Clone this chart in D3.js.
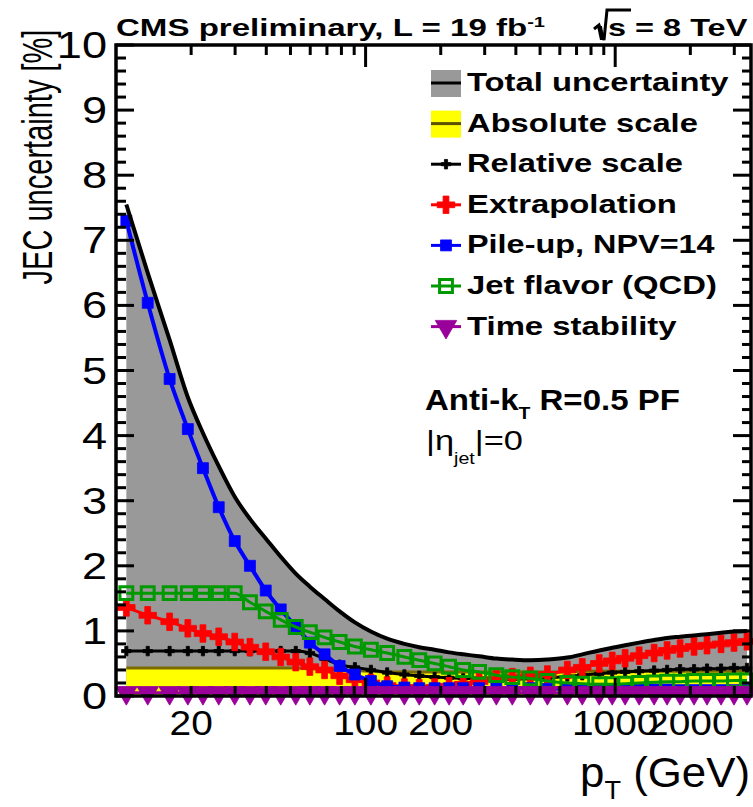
<!DOCTYPE html>
<html>
<head>
<meta charset="utf-8">
<script src="https://cdn.jsdelivr.net/npm/d3@7"></script>
<style>
  body { margin: 0; background: #fff; }
  svg { display: block; }
  text { font-family: "Liberation Sans", Arial, Helvetica, sans-serif; fill: #000; }
</style>
</head>
<body>
<svg id="chart" width="753" height="807"></svg>
<script>
// bin centres in GeV
var ptCenters = [11, 13.4, 16.4, 19.4, 22.3, 25.8, 29.9, 34.4, 39.8, 45.7,
  52.5, 59.8, 68.5, 78.7, 90.6, 105, 122, 143, 164, 189,
  216, 246, 285, 334, 387, 457, 535, 643, 738, 863,
  973, 1096, 1247, 1432, 1614, 1820, 2070, 2333, 2655, 2992, 3373];

var totalUnc = [7.55, 6.5, 5.47, 4.59, 4.04, 3.53, 3.06, 2.72, 2.42, 2.14,
  1.88, 1.68, 1.49, 1.3, 1.13, 0.99, 0.88, 0.8, 0.75, 0.71,
  0.67, 0.64, 0.61, 0.575, 0.56, 0.55, 0.56, 0.59, 0.64, 0.7,
  0.74, 0.78, 0.82, 0.86, 0.89, 0.91, 0.93, 0.95, 0.97, 0.99, 1.0];

var absScale = [0.43, 0.43, 0.43, 0.43, 0.43, 0.43, 0.43, 0.43, 0.43, 0.43,
  0.43, 0.42, 0.41, 0.40, 0.39, 0.38, 0.37, 0.37, 0.37, 0.37,
  0.37, 0.37, 0.37, 0.37, 0.37, 0.37, 0.37, 0.37, 0.38, 0.38,
  0.38, 0.38, 0.38, 0.38, 0.38, 0.38, 0.38, 0.38, 0.38, 0.38, 0.38];

var relScale = [0.69, 0.69, 0.69, 0.69, 0.69, 0.69, 0.69, 0.69, 0.69, 0.69,
  0.69, 0.66, 0.57, 0.48, 0.44, 0.40, 0.36, 0.33, 0.31, 0.29,
  0.28, 0.27, 0.27, 0.26, 0.26, 0.27, 0.28, 0.30, 0.32, 0.34,
  0.36, 0.37, 0.38, 0.39, 0.40, 0.41, 0.41, 0.42, 0.42, 0.43, 0.43];

var extrapol = [1.36, 1.24, 1.14, 1.04, 0.96, 0.91, 0.83, 0.75, 0.68, 0.60,
  0.52, 0.45, 0.40, 0.31, 0.25, 0.20, 0.16, 0.13, 0.12, 0.13,
  0.15, 0.18, 0.22, 0.26, 0.29, 0.31, 0.33, 0.40, 0.44, 0.50,
  0.54, 0.58, 0.62, 0.66, 0.70, 0.73, 0.76, 0.78, 0.80, 0.82, 0.84];

var pileUp = [7.3, 6.04, 4.87, 4.1, 3.5, 2.9, 2.38, 2.0, 1.62, 1.33,
  1.07, 0.82, 0.64, 0.46, 0.33, 0.23, 0.15, 0.13, 0.12, 0.12,
  0.12, 0.12, 0.12, 0.12, 0.12, 0.12, 0.11, 0.11, 0.11, 0.11,
  0.10, 0.10, 0.10, 0.10, 0.10, 0.09, 0.09, 0.09, 0.09, 0.09, 0.09];

var flavor = [1.58, 1.58, 1.58, 1.58, 1.58, 1.58, 1.58, 1.44, 1.30, 1.17,
  1.06, 0.98, 0.90, 0.83, 0.76, 0.71, 0.66, 0.60, 0.55, 0.50,
  0.45, 0.40, 0.37, 0.32, 0.29, 0.27, 0.23, 0.20, 0.19, 0.18,
  0.18, 0.19, 0.20, 0.21, 0.22, 0.22, 0.23, 0.23, 0.23, 0.24, 0.24];

var timeStab = [0.05, 0.05, 0.05, 0.05, 0.05, 0.05, 0.05, 0.05, 0.05, 0.05,
  0.05, 0.05, 0.05, 0.05, 0.05, 0.05, 0.05, 0.05, 0.05, 0.05,
  0.05, 0.05, 0.05, 0.05, 0.05, 0.05, 0.05, 0.05, 0.05, 0.05,
  0.05, 0.05, 0.05, 0.05, 0.05, 0.05, 0.05, 0.05, 0.05, 0.05, 0.05];

var xTickLabels = [20, 100, 200, 1000, 2000];
var yTickLabels = [0, 1, 2, 3, 4, 5, 6, 7, 8, 9, 10];
var legendLabels = ["Total uncertainty", "Absolute scale", "Relative scale",
  "Extrapolation", "Pile-up, NPV=14", "Jet flavor (QCD)", "Time stability"];

(function() {
  'use strict';

  var svg = d3.select('#chart');
  var left = 116, right = 751, top = 45, bottom = 696;

  var x = d3.scaleLog().domain([10, 3500]).range([left, right]);
  var y = d3.scaleLinear().domain([0, 10]).range([bottom, top]);

  // text helper: scales the text horizontally, like the stretched original
  function label(parent, px, py, opts, build) {
    var g = parent.append('g');
    var t = g.append('text')
      .attr('text-anchor', opts.anchor || 'start')
      .style('font-size', opts.size + 'px')
      .style('font-weight', opts.bold ? 'bold' : 'normal');
    build(t);
    var s = opts.sx || 1;
    if (opts.width) {
      s = opts.width / t.node().getBBox().width;
    }
    g.attr('transform', 'translate(' + px + ',' + py + ')' + (opts.rot ? ' rotate(' + opts.rot + ')' : '') + ' scale(' + s + ',1)');
    return g;
  }

  function pts(vals) {
    return ptCenters.map(function(p, i) { return [p, vals[i]]; });
  }

  var line = d3.line()
    .x(function(d) { return x(d[0]); })
    .y(function(d) { return y(d[1]); })
    .curve(d3.curveMonotoneX);

  var area = d3.area()
    .x(function(d) { return x(d[0]); })
    .y0(y(0))
    .y1(function(d) { return y(d[1]); })
    .curve(d3.curveMonotoneX);

  var plot = svg.append('g');

  // filled bands
  plot.append('path').attr('d', area(pts(totalUnc))).attr('fill', '#999999');
  plot.append('path').attr('d', area(pts(absScale))).attr('fill', '#ffff00');
  plot.append('path').attr('d', line(pts(absScale))).attr('fill', 'none')
    .attr('stroke', '#7a6a00').attr('stroke-width', 3);

  var series = [
    { vals: relScale, color: '#000000', width: 3, sym: d3.symbolCross, size: 50, fill: true },
    { vals: extrapol, color: '#ff0000', width: 3, sym: d3.symbolCross, size: 170, fill: true },
    { vals: pileUp, color: '#0000ff', width: 4, sym: d3.symbolSquare, size: 120, fill: true },
    { vals: flavor, color: '#009900', width: 3, sym: d3.symbolSquare, size: 165, fill: false },
    { vals: timeStab, color: '#990099', width: 3, sym: d3.symbolTriangle, size: 200, fill: true, flip: true }
  ];

  series.forEach(function(s) {
    plot.append('path').attr('d', line(pts(s.vals))).attr('fill', 'none')
      .attr('stroke', s.color).attr('stroke-width', s.width);
    plot.selectAll(null).data(pts(s.vals)).enter().append('path')
      .attr('d', d3.symbol().type(s.sym).size(s.size))
      .attr('transform', function(d) {
        return 'translate(' + x(d[0]) + ',' + y(d[1]) + ')' + (s.flip ? ' rotate(180)' : '');
      })
      .attr('fill', s.fill ? s.color : 'none')
      .attr('stroke', s.color)
      .attr('stroke-width', s.fill ? 0.8 : 3);
  });

  plot.append('path').attr('d', line(pts(totalUnc))).attr('fill', 'none')
    .attr('stroke', '#000').attr('stroke-width', 4);

  // axes: frame and ticks
  var ax = svg.append('g').attr('stroke', '#000').attr('stroke-width', 3);
  var xt = x.ticks();
  xt.forEach(function(v) {
    if (v <= 10) return;
    var major = Math.abs(Math.log10(v) % 1) < 1e-6;
    var len = major ? 18 : 10;
    ax.append('line').attr('x1', x(v)).attr('x2', x(v)).attr('y1', bottom).attr('y2', bottom - len);
    ax.append('line').attr('x1', x(v)).attr('x2', x(v)).attr('y1', top).attr('y2', top + (major ? 22 : 10));
  });
  d3.range(0, 51).forEach(function(i) {
    var v = i / 5;
    var major = i % 5 === 0;
    ax.append('line').attr('x1', left).attr('x2', left + (major ? 18 : 10)).attr('y1', y(v)).attr('y2', y(v));
    ax.append('line').attr('x1', right).attr('x2', right - (major ? 18 : 9)).attr('y1', y(v)).attr('y2', y(v));
  });
  svg.append('rect').attr('x', left).attr('y', top).attr('width', right - left).attr('height', bottom - top)
    .attr('fill', 'none').attr('stroke', '#000').attr('stroke-width', 3.5);

  // tick labels
  yTickLabels.forEach(function(v) {
    label(svg, 107, y(v) + 13, { size: 37, anchor: 'end', sx: 1.22 }, function(t) { t.text(v); });
  });
  xTickLabels.forEach(function(v) {
    label(svg, x(v), 735, { size: 36, anchor: 'middle', sx: 1.08 }, function(t) { t.text(v); });
  });

  // axis titles
  label(svg, 52, 157, { size: 43, anchor: 'middle', rot: -90, width: 255 }, function(t) {
    t.text('JEC uncertainty [%]');
  });
  label(svg, 750, 787, { size: 42, anchor: 'end', width: 170 }, function(t) {
    t.append('tspan').text('p');
    t.append('tspan').attr('dy', 12).style('font-size', '26px').text('T');
    t.append('tspan').attr('dy', -12).text(' (GeV)');
  });

  // header
  label(svg, 116, 36, { size: 24.7, bold: true, width: 429 }, function(t) {
    t.append('tspan').text('CMS preliminary, L = 19 fb');
    t.append('tspan').attr('dy', -9).style('font-size', '15px').text('-1');
  });
  svg.append('path').attr('d', 'M594,29 L599,25 L604,40 L607,10 L631,10')
    .attr('fill', 'none').attr('stroke', '#000').attr('stroke-width', 3);
  svg.append('path').attr('d', 'M597,26 L602,26 L604,40 L600,40 Z').attr('fill', '#000');
  label(svg, 608, 36, { size: 24.7, bold: true, width: 140 }, function(t) { t.text('s = 8 TeV'); });

  // legend
  var legendWidths = [262, 231, 216, 210, 248, 250, 210];
  var legendX = 431, legendTextX = 467;
  legendLabels.forEach(function(txt, i) {
    var by = 91 + i * 40.6;
    var cy = by - 8;
    var g = svg.append('g');
    if (i === 0 || i === 1) {
      g.append('rect').attr('x', legendX).attr('y', cy - 13).attr('width', 30).attr('height', 27)
        .attr('fill', i === 0 ? '#999999' : '#ffff00');
      g.append('line').attr('x1', legendX).attr('x2', legendX + 30).attr('y1', cy).attr('y2', cy)
        .attr('stroke', i === 0 ? '#000' : '#5a5000').attr('stroke-width', 3);
    } else {
      var s = series[i - 2];
      g.append('line').attr('x1', legendX).attr('x2', legendX + 30).attr('y1', cy).attr('y2', cy)
        .attr('stroke', s.color).attr('stroke-width', 3);
      g.append('path').attr('d', d3.symbol().type(s.sym).size(s.size))
        .attr('transform', 'translate(' + (legendX + 15) + ',' + cy + ')' + (s.flip ? ' rotate(180)' : ''))
        .attr('fill', s.fill ? s.color : 'none').attr('stroke', s.color)
        .attr('stroke-width', s.fill ? 0.8 : 3);
    }
    label(svg, legendTextX, by, { size: 26.5, bold: true, width: legendWidths[i] }, function(t) { t.text(txt); });
  });

  // jet algorithm notes
  label(svg, 425, 410, { size: 29, bold: true, width: 255 }, function(t) {
    t.append('tspan').text('Anti-k');
    t.append('tspan').attr('dy', 9).style('font-size', '17px').text('T');
    t.append('tspan').attr('dy', -9).text(' R=0.5 PF');
  });
  label(svg, 426, 450, { size: 28, width: 97 }, function(t) {
    t.append('tspan').text('|\u03b7');
    t.append('tspan').attr('dy', 14).style('font-size', '16px').text('jet');
    t.append('tspan').attr('dy', -14).text('|=0');
  });
}());
</script>
</body>
</html>
